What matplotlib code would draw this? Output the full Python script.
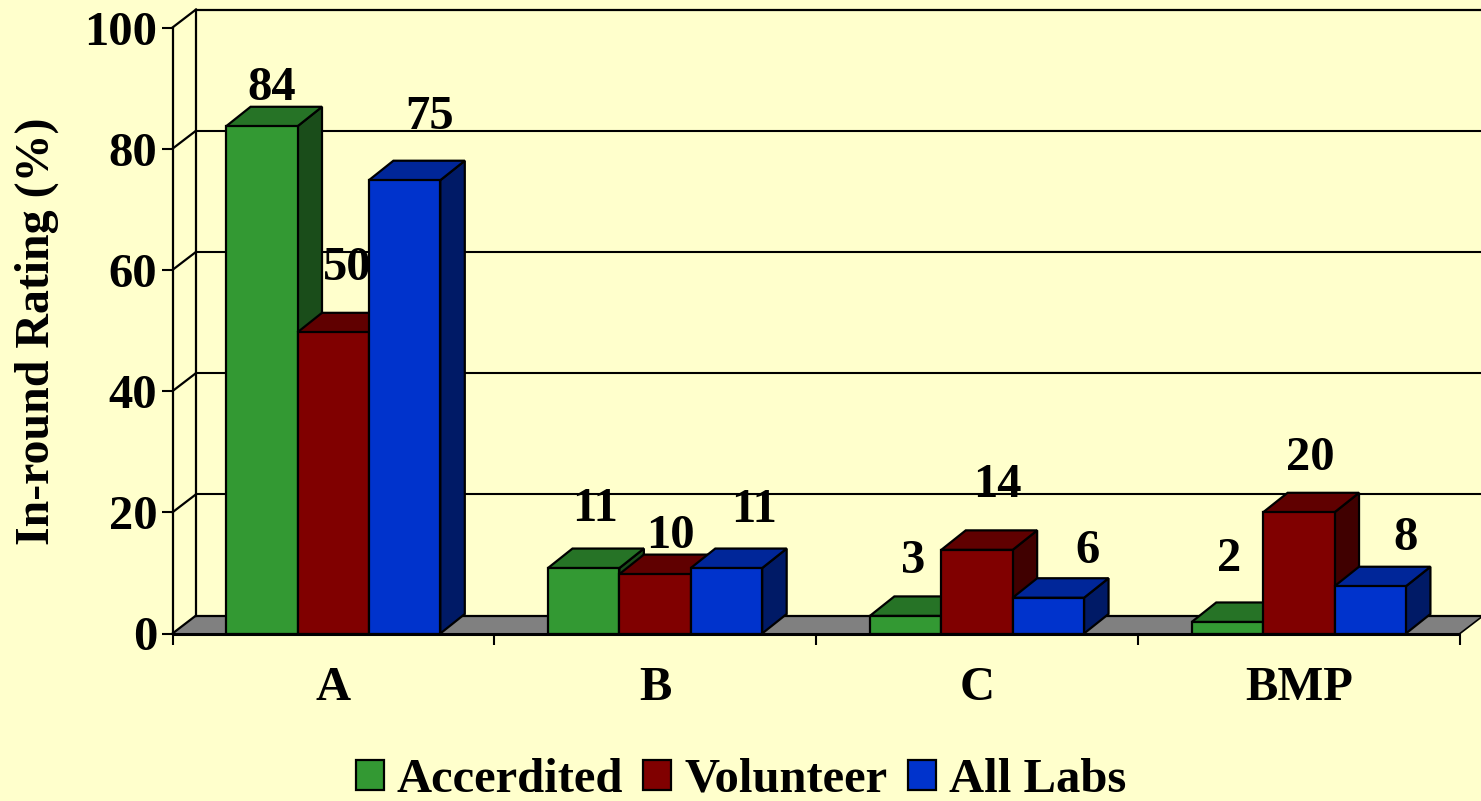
import matplotlib
matplotlib.use("Agg")
import matplotlib.pyplot as plt
from matplotlib.patches import Patch, Polygon

categories = ["A", "B", "C", "BMP"]
series = ["Accerdited", "Volunteer", "All Labs"]
accredited = [83.7, 10.8, 2.9, 1.9]
volunteer = [49.7, 9.8, 13.8, 20.0]
all_labs = [74.8, 10.8, 5.9, 7.8]
accredited_labels = ["84", "11", "3", "2"]
volunteer_labels = ["50", "10", "14", "20"]
all_labs_labels = ["75", "11", "6", "8"]
y_ticks = [0, 20, 40, 60, 80, 100]

# label shift from the top middle of each bar, in pixels
accredited_shift = [(10, 38), (11, 59), (8, 55), (2, 63)]
volunteer_shift = [(14, 64), (15, 38), (20, 65), (11, 54)]
all_labs_shift = [(25, 63), (28, 58), (39, 47), (35, 48)]

face_colors = ["#339933", "#800000", "#0033CC"]
top_colors = ["#267326", "#600000", "#002699"]
side_colors = ["#1A4D1A", "#400000", "#001A66"]
bg = "#FFFFCC"
font = "Liberation Serif"

W, H = 1481, 801
left, right, bottom, top = 172.5, 1460.0, 633.5, 27.5

plt.rcParams["font.family"] = font
plt.rcParams["font.weight"] = "bold"

fig = plt.figure(figsize=(W / 100, H / 100), dpi=100, facecolor=bg)
ax = fig.add_axes([left / W, 1 - bottom / H, (right - left) / W, (bottom - top) / H])
ax.set_facecolor("none")
ax.set_xlim(0, 4)
ax.set_ylim(0, 100)
for s in ax.spines.values():
    s.set_visible(False)

px_x = 4 / (right - left)
px_y = 100 / (bottom - top)
wall_dx, wall_dy = 23.5 * px_x, 18 * px_y
bar_dx, bar_dy = 24.5 * px_x, 19.5 * px_y
lw = 1.6

# floor and walls
ax.add_patch(Polygon([(0, 0), (wall_dx, wall_dy), (4 + wall_dx, wall_dy), (4, 0)],
                     closed=True, fc="#808080", ec="none", clip_on=False, zorder=1))
ax.plot([wall_dx, 4 + wall_dx], [wall_dy, wall_dy], color="k", lw=lw, clip_on=False, zorder=2)
ax.plot([4, 4 + wall_dx], [0, wall_dy], color="k", lw=1.2, clip_on=False, zorder=2)
ax.plot([wall_dx, wall_dx], [wall_dy, 100 + wall_dy], color="k", lw=lw, clip_on=False, zorder=2)
for t in y_ticks:
    ax.plot([0, wall_dx], [t, t + wall_dy], color="k", lw=lw, clip_on=False, zorder=2)
    if t > 0:
        ax.plot([wall_dx, 4 + wall_dx], [t + wall_dy, t + wall_dy], color="k", lw=1.5 if t < 100 else lw,
                clip_on=False, zorder=2)
ax.plot([0, 0], [0, 100], color="k", lw=lw, clip_on=False, zorder=2)

# bars
values = [accredited, volunteer, all_labs]
labels = [accredited_labels, volunteer_labels, all_labs_labels]
shifts = [accredited_shift, volunteer_shift, all_labs_shift]
bar_w = 71.4 * px_x
margin = 53.6 * px_x
z = 3
for c in range(len(categories)):
    for s in range(len(series)):
        v = values[s][c]
        x0 = c + margin + s * bar_w
        x1 = x0 + bar_w
        ax.add_patch(Polygon([(x1, 0), (x1 + bar_dx, bar_dy), (x1 + bar_dx, v + bar_dy), (x1, v)],
                             closed=True, fc=side_colors[s], ec="k", lw=lw, zorder=z, clip_on=False))
        ax.add_patch(Polygon([(x0, v), (x0 + bar_dx, v + bar_dy), (x1 + bar_dx, v + bar_dy), (x1, v)],
                             closed=True, fc=top_colors[s], ec="k", lw=lw, zorder=z, clip_on=False))
        ax.bar(x0, v, width=bar_w, align="edge", color=face_colors[s], edgecolor="k", lw=lw,
               zorder=z + 0.5, clip_on=False)
        dx, dy = shifts[s][c]
        ax.annotate(labels[s][c], xy=(x0 + bar_w / 2, v), xytext=(dx * 0.72, dy * 0.72),
                    textcoords="offset points", ha="center", va="center", fontsize=35,
                    zorder=20, annotation_clip=False)
        z += 1

ax.plot([0, 4], [0, 0], color="k", lw=2.2, clip_on=False, zorder=50, solid_capstyle="butt")

# axes ticks
ax.set_yticks(y_ticks)
ax.set_yticklabels([str(t) for t in y_ticks], fontsize=35)
ax.set_xticks(range(5))
ax.set_xticklabels([])
ax.set_xticks([i + 0.5 for i in range(4)], minor=True)
ax.set_xticklabels(categories, minor=True, fontsize=35)
ax.tick_params(axis="y", length=8, width=1.5, pad=3)
ax.tick_params(axis="x", which="major", length=8, width=1.5)
ax.tick_params(axis="x", which="minor", length=0, pad=23.5)
fig.text(37 / W, 1 - 331 / H, "In-round Rating (%)", rotation=90, ha="center", va="center",
         fontsize=34.5, fontweight="bold")

handles = [Patch(fc=c, ec="k", lw=lw) for c in face_colors]
fig.legend(handles, series, ncol=3, loc="center", bbox_to_anchor=(741 / W, 1 - 780 / H), frameon=False,
           fontsize=35, handlelength=0.58, handleheight=0.58, handletextpad=0.27, columnspacing=0.41,
           borderpad=0, borderaxespad=0)

fig.savefig("out.png", dpi=100, facecolor=bg)
